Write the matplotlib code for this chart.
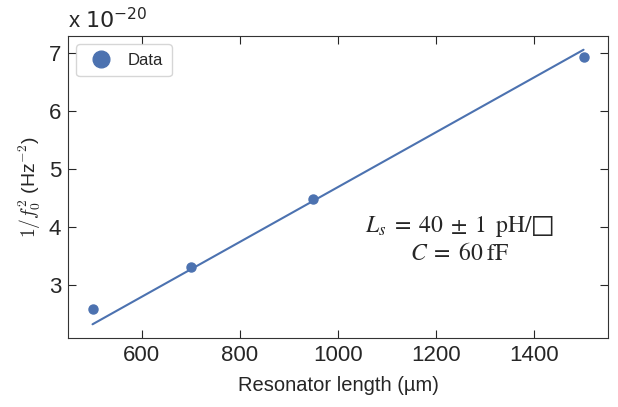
import matplotlib
matplotlib.use('Agg')
import matplotlib.pyplot as plt
import seaborn as sns

# measured points
length_um = [500, 700, 950, 1500]
inv_f2 = [2.60, 3.32, 4.48, 6.93]   # x 1e-20 Hz^-2

# model line (Ls = 40 pH/sq, C = 60 fF)
model_x = [500, 1500]
model_y = [2.33, 7.05]

sns.set_style('ticks')
plt.rcParams['font.family'] = ['Liberation Sans', 'DejaVu Sans']
plt.rcParams['mathtext.fontset'] = 'cm'

blue = '#4C72B0'

fig, ax = plt.subplots(figsize=(6.18, 4.07), dpi=100)
ax.plot(length_um, inv_f2, 'o', color=blue, markersize=6.5, label='Data')
ax.plot(model_x, model_y, '-', color=blue, linewidth=1.5)

ax.tick_params(direction='in', top=True, right=True, labelsize=16, length=6,
               colors='#262626', pad=5)
for s in ax.spines.values():
    s.set_color('#333333')

ax.set_xlabel('Resonator length (\u00b5m)', fontsize=14.5, color='#262626',
              labelpad=7)
ax.set_ylabel('$1/f_0^2$ (Hz$^{-2}$)', fontsize=14, color='#262626')
ax.text(0.0, 1.01, 'x $10^{-20}$', transform=ax.transAxes, fontsize=16,
        ha='left', va='bottom', color='#262626',
        math_fontfamily='dejavusans')

ax.text(0.725, 0.325,
        '$L_s\\;=\\;40\\;\\pm\\;1\\;\\;\\mathrm{pH}/\u25a1$\n$C\\;=\\;60\\;\\mathrm{fF}$',
        transform=ax.transAxes, ha='center', va='center', fontsize=17,
        linespacing=1.25, math_fontfamily='stix')

ax.legend(loc='upper left', fontsize=12, frameon=True, markerscale=1.85,
          borderpad=0.5, handletextpad=0.6)

plt.subplots_adjust(left=0.11, right=0.984, top=0.9115, bottom=0.1695)
fig.savefig('out.png', dpi=100)
